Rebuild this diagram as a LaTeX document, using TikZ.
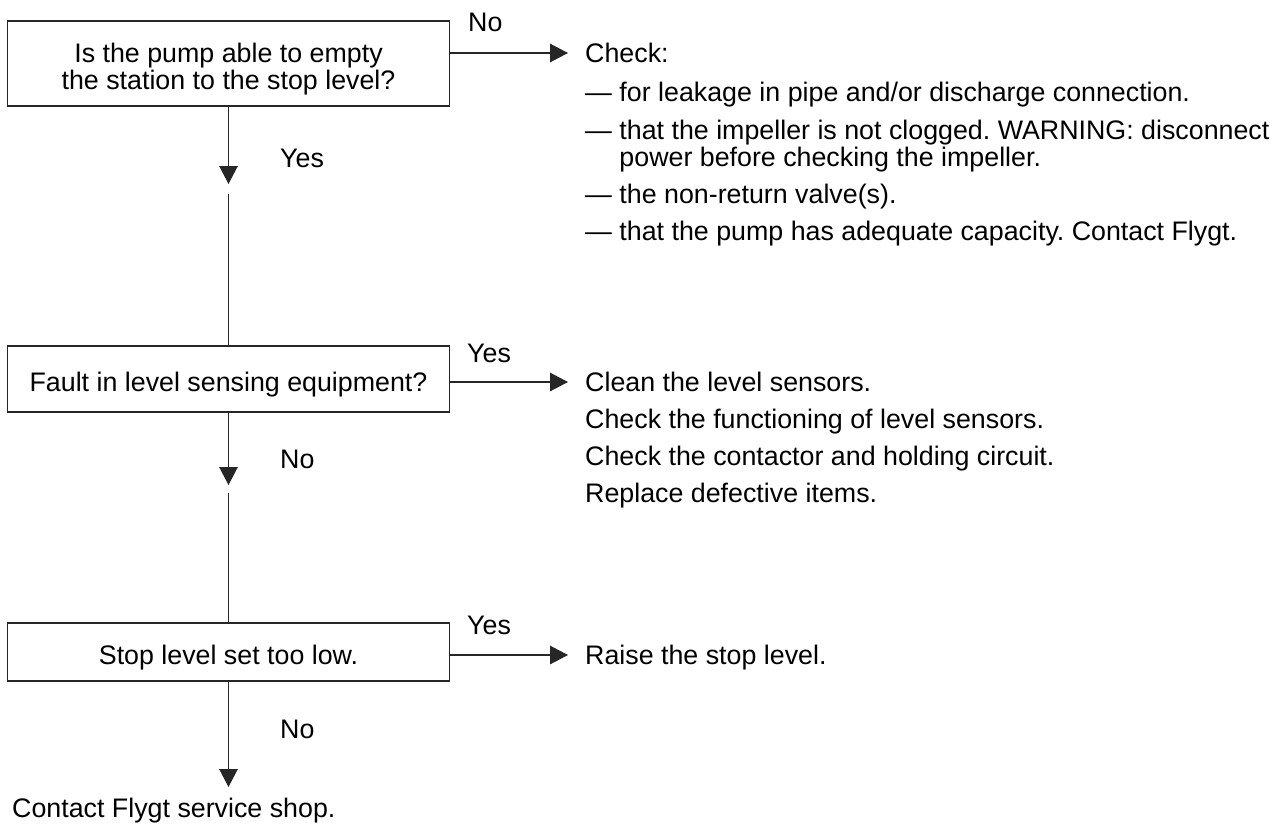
\documentclass[tikz,border=0pt]{standalone}
\usepackage{fontspec}
\setmainfont{Liberation Sans}
\usetikzlibrary{arrows.meta}
\frenchspacing
\begin{document}
\frenchspacing
\begin{tikzpicture}[x=1pt,y=-1pt,
  fnt/.style={font=\fontsize{26.8}{27}\selectfont\frenchspacing},
  box/.style={draw=black!85, line width=1.3pt, minimum width=442pt, inner sep=0pt, fnt, align=center, text height=24pt, text depth=0pt},
  txt/.style={inner sep=0pt, anchor=base west, fnt, align=left},
  arr/.style={draw=black!85, line width=1.3pt, -{Triangle[length=18pt,width=18.5pt]}},
  ln/.style={draw=black!85, line width=1.3pt}]
\useasboundingbox (0,0) rectangle (1282,825);

% decision boxes
\node[box, minimum height=85pt, text height=52.2pt, text depth=0pt] (b1) at (228.5,63.5) {Is the pump able to empty\\the station to the stop level?};
\node[box, minimum height=66pt] (b2) at (228.5,379) {Fault in level sensing equipment?};
\node[box, minimum height=58pt] (b3) at (228.5,652) {Stop level set too low.};

% right-hand texts
\node[txt] (c0) at (585,62.6) {Check:};
\node[txt] (c1) at (585,101.6) {— for leakage in pipe and/or discharge connection.};
\node[txt] (c2) at (585,166.6) {— that the impeller is not clogged. WARNING: disconnect\\\hphantom{— }power before checking the impeller.};
\node[txt] (c3) at (585,203.6) {— the non-return valve(s).};
\node[txt] (c4) at (585,240.6) {— that the pump has adequate capacity. Contact Flygt.};

\node[txt] (s1) at (585,391.6) {Clean the level sensors.};
\node[txt] (s2) at (585,428.6) {Check the functioning of level sensors.};
\node[txt] (s3) at (585,465.6) {Check the contactor and holding circuit.};
\node[txt] (s4) at (585,502.6) {Replace defective items.};

\node[txt] (r1t) at (585,664.6) {Raise the stop level.};

\node[txt] (fin) at (12,817.6) {Contact Flygt service shop.};

% branch labels
\node[txt] (l1) at (468,31.6) {No};
\node[txt] (l2) at (467,362.6) {Yes};
\node[txt] (l3) at (467,634.6) {Yes};
\node[txt] (d1) at (280,167.6) {Yes};
\node[txt] (d2) at (280,468.6) {No};
\node[txt] (d3) at (280,738.6) {No};

% horizontal connectors
\coordinate (h1) at (568,53);
\coordinate (h2) at (568,382);
\coordinate (h3) at (568,655);
\draw[arr] (b1.east |- h1) -- (h1);
\draw[arr] (b2.east |- h2) -- (h2);
\draw[arr] (b3.east |- h3) -- (h3);

% vertical connectors
\coordinate (v1) at (228.5,184);
\coordinate (w1) at (228.5,194);
\coordinate (v2) at (228.5,485);
\coordinate (w2) at (228.5,493);
\coordinate (v3) at (228.5,787);
\draw[arr] (b1.south) -- (v1);
\draw[ln] (w1) -- (b2.north);
\draw[arr] (b2.south) -- (v2);
\draw[ln] (w2) -- (b3.north);
\draw[arr] (b3.south) -- (v3);
\end{tikzpicture}
\end{document}
